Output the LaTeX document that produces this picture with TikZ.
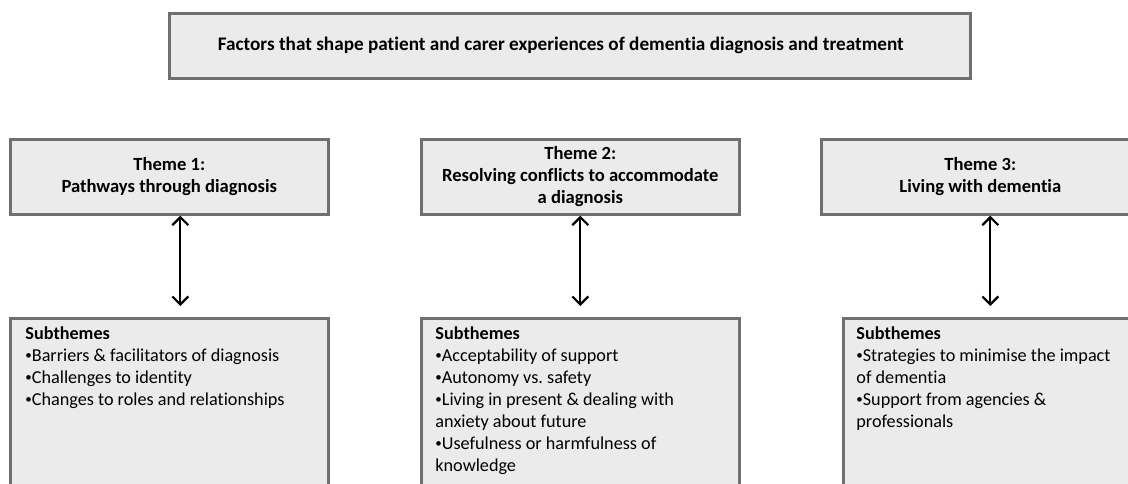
\documentclass[tikz,border=0pt]{standalone}
\usepackage{fontspec}
\setmainfont{Carlito}[RawFeature={-liga;-clig;-calt;-dlig}]
\usetikzlibrary{arrows.meta}
\frenchspacing
\definecolor{boxfill}{HTML}{EBEBEB}
\definecolor{boxline}{HTML}{707070}
\newcommand\bulletmark{{\fontsize{6.5}{6.5}\selectfont\raisebox{0.25ex}{•}}}
\tikzset{
  box/.style={draw=boxline, fill=boxfill, line width=1.3pt, inner sep=0pt, anchor=north west},
  themetext/.style={align=center, font=\fontsize{9.3}{11}\selectfont\bfseries, inner sep=0pt},
  titletext/.style={align=center, font=\fontsize{9.6}{11}\selectfont\bfseries, inner sep=0pt},
  subtext/.style={align=left, anchor=north west, font=\fontsize{9.1}{11}\selectfont, inner sep=0pt},
  link/.style={line width=1.1pt, {Straight Barb[length=4pt,width=8pt,line width=1.1pt]}-{Straight Barb[length=4pt,width=8pt,line width=1.1pt]}}
}
\begin{document}
\begin{tikzpicture}[x=0.5pt,y=-0.5pt]
\useasboundingbox (0,0) rectangle (1128,483);
\clip (0,0) rectangle (1128,483);
% top
\node[box, minimum width=400.5pt, minimum height=32.5pt] (top) at (168,12) {};
\node[titletext] (toptext) at ([xshift=-4.5pt]top.center) {Factors that shape patient and carer experiences of dementia diagnosis and treatment};
% themes
\node[box, minimum width=159pt, minimum height=37.5pt] (t1) at (9,138) {};
\node[box, minimum width=159pt, minimum height=37.5pt] (t2) at (420,138) {};
\node[box, minimum width=159pt, minimum height=37.5pt] (t3) at (820,138) {};
\node[themetext] (t1text) at (t1.center) {Theme 1:\\Pathways through diagnosis};
\node[themetext] (t2text) at (t2.center) {Theme 2:\\Resolving conflicts to accommodate\\a diagnosis};
\node[themetext] (t3text) at (t3.center) {Theme 3:\\Living with dementia};
% subthemes
\node[box, minimum width=159pt, minimum height=100pt] (s1) at (9,317) {};
\node[box, minimum width=159pt, minimum height=100pt] (s2) at (420,317) {};
\node[box, minimum width=159pt, minimum height=100pt] (s3) at (842,317) {};
\node[subtext] (s1text) at (25,326) {\textbf{Subthemes}\\\bulletmark Barriers \& facilitators of diagnosis\\\bulletmark Challenges to identity\\\bulletmark Changes to roles and relationships};
\node[subtext] (s2text) at (435,326) {\textbf{Subthemes}\\\bulletmark Acceptability of support\\\bulletmark Autonomy vs. safety\\\bulletmark Living in present \& dealing with\\anxiety about future\\\bulletmark Usefulness or harmfulness of\\knowledge};
\node[subtext] (s3text) at (856,326) {\textbf{Subthemes}\\\bulletmark Strategies to minimise the impact\\of dementia\\\bulletmark Support from agencies \&\\professionals};
% links
\draw[link] ([xshift=5.5pt]t1.south) -- ([xshift=5.5pt,yshift=5.5pt]t1.south |- s1.north);
\draw[link] (t2.south) -- ([yshift=5.5pt]s2.north);
\draw[link] ([xshift=5pt]t3.south) -- ([xshift=5pt,yshift=5.5pt]t3.south |- s3.north);
\end{tikzpicture}
\end{document}
